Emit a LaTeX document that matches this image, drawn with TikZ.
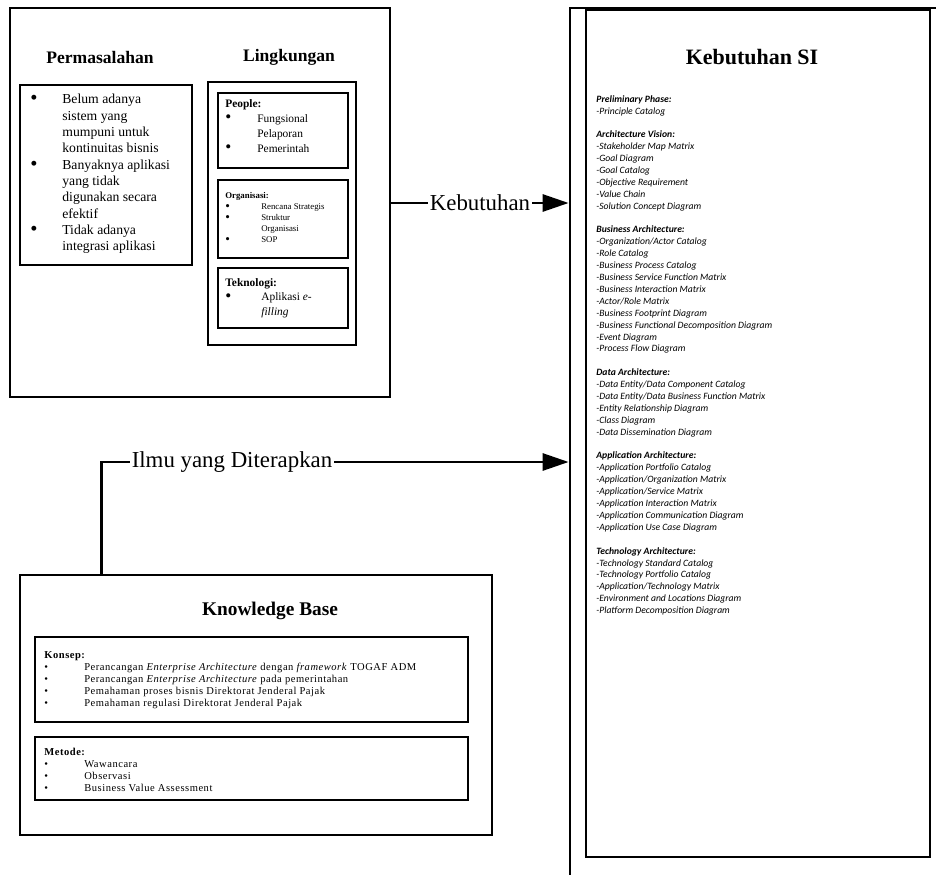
\documentclass[tikz,border=0pt]{standalone}
\usepackage{fontspec}
\setmainfont{Liberation Serif}
\newfontfamily\listfont{Carlito}
\newfontfamily\kbfont[LetterSpace=5]{Liberation Serif}
\usetikzlibrary{arrows.meta}
\tikzset{
  panel/.style={draw, line width=1.6pt, inner sep=0pt},
  title/.style={font=\bfseries\fontsize{10}{12}\selectfont},
  lbl/.style={font=\fontsize{13}{15}\selectfont, inner sep=1pt},
  conn/.style={line width=1.6pt},
  tip/.style={-{Triangle[length=0.52cm, width=0.34cm]}},
  txt/.style={anchor=north west, align=left, inner sep=0pt},
}
\newcommand{\bul}[1][0.64cm]{\makebox[#1][l]{\smash{\raisebox{-0.15ex}{\scalebox{1.5}{\textbullet}}}}}
\newcommand{\kbul}{\makebox[0.8cm][l]{\textbullet}}
\newcommand{\ind}[1][0.64cm]{\hspace*{#1}}

\begin{document}
\begin{tikzpicture}[x=0.02cm, y=-0.02cm]%
\useasboundingbox (0,0) rectangle (936,875);%
\node[panel, minimum width=7.6cm, minimum height=7.78cm] (topBox) at (200,202.5) {};%
\node[title] (masalahTtl) at (100,57) {Permasalahan};%
\node[title] (lingkTtl) at (289,57) {Lingkungan};%
\node[panel, minimum width=3.44cm, minimum height=3.6cm] (masalahBox) at (106,175) {};%
\node[txt, font=\fontsize{7.8}{9.3}\selectfont] (masalahTxt) at (30,94) {%
\bul Belum adanya\\ \ind sistem yang\\ \ind mumpuni untuk\\ \ind kontinuitas bisnis\\
\bul Banyaknya aplikasi\\ \ind yang tidak\\ \ind digunakan secara\\ \ind efektif\\
\bul Tidak adanya\\ \ind integrasi aplikasi};%
\node[panel, minimum width=2.96cm, minimum height=5.26cm] (lingkBox) at (282,213.5) {};%
\node[panel, minimum width=2.6cm, minimum height=1.5cm] (peopleBox) at (283,130.5) {};%
\node[panel, minimum width=2.6cm, minimum height=1.56cm] (orgBox) at (283,219) {};%
\node[panel, minimum width=2.6cm, minimum height=1.2cm] (tekBox) at (283,298) {};%
\node[txt, font=\fontsize{6.5}{8.5}\selectfont] (peopleTxt) at (225,99) {%
\textbf{People:}\\ \bul Fungsional\\ \ind Pelaporan\\ \bul Pemerintah};%
\node[txt, font=\fontsize{5}{6.3}\selectfont] (orgTxt) at (225,192) {%
\textbf{Organisasi:}\\ \bul[0.72cm]Rencana Strategis\\ \bul[0.72cm]Struktur\\ \ind[0.72cm]Organisasi\\ \bul[0.72cm]SOP};%
\node[txt, font=\fontsize{6.5}{8.2}\selectfont] (tekTxt) at (225,278) {%
\textbf{Teknologi:}\\ \bul[0.72cm]Aplikasi \textit{e-}\\ \ind[0.72cm]\textit{filling}};%
\node[panel, minimum width=7.52cm, minimum height=17.84cm] (kebOuter) at (758,454) {};%
\node[panel, minimum width=6.88cm, minimum height=16.94cm] (kebBox) at (758,433.5) {};%
\node[title, font=\bfseries\fontsize{12.5}{15}\selectfont] (kebTtl) at (752,57) {Kebutuhan SI};%
\node[txt, font=\listfont\itshape\fontsize{5.5}{6.77}\selectfont] (kebTxt) at (596,95) {%
\textbf{Preliminary Phase:}\\ -Principle Catalog\\[6.77pt]
\textbf{Architecture Vision:}\\ -Stakeholder Map Matrix\\ -Goal Diagram\\ -Goal Catalog\\
-Objective Requirement\\ -Value Chain\\ -Solution Concept Diagram\\[6.77pt]
\textbf{Business Architecture:}\\ -Organization/Actor Catalog\\ -Role Catalog\\
-Business Process Catalog\\ -Business Service Function Matrix\\ -Business Interaction Matrix\\
-Actor/Role Matrix\\ -Business Footprint Diagram\\ -Business Functional Decomposition Diagram\\
-Event Diagram\\ -Process Flow Diagram\\[6.77pt]
\textbf{Data Architecture:}\\ -Data Entity/Data Component Catalog\\
-Data Entity/Data Business Function Matrix\\ -Entity Relationship Diagram\\ -Class Diagram\\
-Data Dissemination Diagram\\[6.77pt]
\textbf{Application Architecture:}\\ -Application Portfolio Catalog\\ -Application/Organization Matrix\\
-Application/Service Matrix\\ -Application Interaction Matrix\\ -Application Communication Diagram\\
-Application Use Case Diagram\\[6.77pt]
\textbf{Technology Architecture:}\\ -Technology Standard Catalog\\ -Technology Portfolio Catalog\\
-Application/Technology Matrix\\ -Environment and Locations Diagram\\ -Platform Decomposition Diagram};%
\node[panel, minimum width=9.44cm, minimum height=5.2cm] (kbBox) at (256,705) {};%
\node[title, font=\bfseries\fontsize{11}{13}\selectfont] (kbTtl) at (270,611) {Knowledge Base};%
\node[panel, minimum width=8.66cm, minimum height=1.7cm] (konsepBox) at (251.5,679.5) {};%
\node[panel, minimum width=8.66cm, minimum height=1.26cm] (metodeBox) at (251.5,768.5) {};%
\node[txt, font=\kbfont\fontsize{6}{6.8}\selectfont] (konsepTxt) at (44,651) {%
\textbf{Konsep:}\\
\kbul Perancangan \textit{Enterprise Architecture} dengan \textit{framework} TOGAF ADM\\
\kbul Perancangan \textit{Enterprise Architecture} pada pemerintahan\\
\kbul Pemahaman proses bisnis Direktorat Jenderal Pajak\\
\kbul Pemahaman regulasi Direktorat Jenderal Pajak};%
\node[txt, font=\kbfont\fontsize{6}{6.8}\selectfont] (metodeTxt) at (44,748) {%
\textbf{Metode:}\\ \kbul Wawancara\\ \kbul Observasi\\ \kbul Business Value Assessment};%
\node[lbl] (kebLbl) at (480,203) {Kebutuhan};%
\draw[conn] (topBox.east |- kebLbl) -- (kebLbl.west);%
\draw[conn, tip] (kebLbl.east) -- (kebLbl -| kebOuter.west);%
\node[lbl] (ilmuLbl) at (232,462) {Ilmu yang Diterapkan};%
\draw[conn] ([xshift=1.66cm]kbBox.north west) |- (ilmuLbl.west);%
\draw[conn, tip] (ilmuLbl.east) -- (ilmuLbl -| kebOuter.west);%
\end{tikzpicture}
\end{document}
